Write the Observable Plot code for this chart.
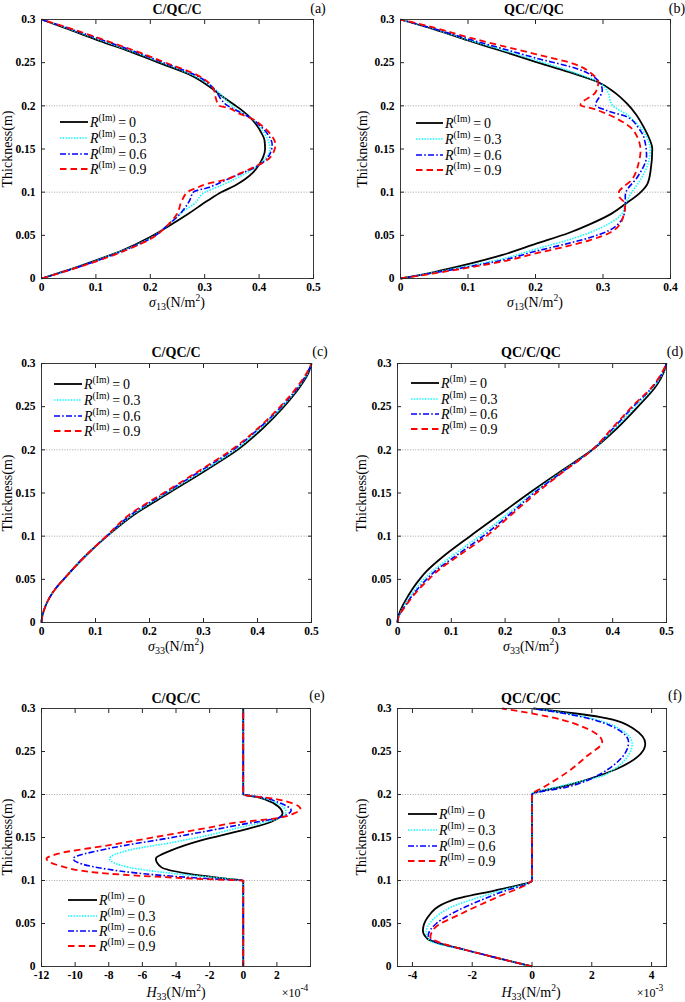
<!DOCTYPE html>
<html><head><meta charset="utf-8">
<script src="https://cdn.jsdelivr.net/npm/d3@7"></script>
<script src="https://cdn.jsdelivr.net/npm/@observablehq/plot@0.6"></script>
<style>
body{margin:0;background:#fff;}
#fig{position:relative;width:685px;height:1002px;overflow:hidden;font-family:"Liberation Serif","DejaVu Serif",serif;color:#000;background:#fff;}
#fig svg.plot{position:absolute;}
.t{position:absolute;white-space:nowrap;line-height:1;}
.ttl{font-weight:bold;font-size:14px;transform:translate(-50%,-50%);}
.let{font-size:14px;transform:translate(-50%,-50%);}
.xl{font-size:14px;transform:translate(-50%,-50%);}
.yl{font-size:14px;transform:translate(-50%,-50%) rotate(-90deg);}
.sub{font-size:10px;position:relative;top:3px;}
.sup{font-size:9.5px;position:relative;top:-6px;}
.lg{font-size:14px;transform:translateY(-50%);}
.mult{font-size:12px;transform:translate(-50%,-50%);}
</style></head>
<body><div id="fig"></div>
<script>
// ---------- tick labels / categories ----------
const yTicks = [0, 0.05, 0.1, 0.15, 0.2, 0.25, 0.3];
const layerBounds = [0.1, 0.2];
const sigTicks5 = [0, 0.1, 0.2, 0.3, 0.4, 0.5];
const sigTicks4 = [0, 0.1, 0.2, 0.3, 0.4];
const hTicksE = [-12, -10, -8, -6, -4, -2, 0, 2];
const hTicksF = [-4, -2, 0, 2, 4];
const rValues = ["0", "0.3", "0.6", "0.9"];

// ---------- (a) sigma13, C/QC/C ----------
const a_black_y = [0, 0.01, 0.021, 0.033, 0.0475, 0.06, 0.075, 0.09, 0.1005, 0.1075, 0.115, 0.123, 0.131, 0.14, 0.15, 0.16, 0.17, 0.178, 0.185, 0.193, 0.201, 0.212, 0.2207, 0.235, 0.25, 0.263, 0.275, 0.29, 0.3];
const a_black_x = [0, 0.05, 0.1, 0.15, 0.198, 0.232, 0.27, 0.305, 0.332, 0.355, 0.374, 0.389, 0.399, 0.407, 0.411, 0.41, 0.403, 0.395, 0.386, 0.372, 0.355, 0.33, 0.312, 0.276, 0.215, 0.162, 0.108, 0.044, 0];
const a_cyan_y = [0, 0.01, 0.021, 0.033, 0.0475, 0.06, 0.0785, 0.086, 0.1, 0.1075, 0.115, 0.13, 0.15, 0.17, 0.185, 0.195, 0.203, 0.212, 0.2207, 0.235, 0.25, 0.263, 0.275, 0.29, 0.3];
const a_cyan_x = [0, 0.051, 0.102, 0.152, 0.202, 0.229, 0.262, 0.28, 0.301, 0.329, 0.355, 0.396, 0.42, 0.408, 0.387, 0.36, 0.345, 0.331, 0.316, 0.28, 0.221, 0.167, 0.113, 0.047, 0];
const a_blue_y = [0, 0.01, 0.021, 0.033, 0.0475, 0.06, 0.075, 0.09, 0.1005, 0.105, 0.113, 0.122, 0.13, 0.14, 0.155, 0.168, 0.178, 0.185, 0.1925, 0.202, 0.206, 0.2207, 0.235, 0.25, 0.263, 0.275, 0.29, 0.3];
const a_blue_x = [0, 0.052, 0.104, 0.154, 0.204, 0.229, 0.255, 0.272, 0.28, 0.305, 0.335, 0.368, 0.396, 0.416, 0.424, 0.415, 0.4, 0.387, 0.365, 0.338, 0.332, 0.316, 0.285, 0.224, 0.171, 0.117, 0.049, 0];
const a_red_y = [0, 0.01, 0.021, 0.033, 0.0475, 0.06, 0.0747, 0.09, 0.101, 0.1044, 0.1095, 0.114, 0.122, 0.13, 0.14, 0.155, 0.168, 0.178, 0.185, 0.1906, 0.198, 0.2003, 0.21, 0.2197, 0.235, 0.25, 0.263, 0.275, 0.29, 0.3];
const a_red_x = [0, 0.053, 0.106, 0.156, 0.205, 0.229, 0.249, 0.258, 0.2705, 0.283, 0.304, 0.335, 0.366, 0.394, 0.42, 0.43, 0.42, 0.403, 0.387, 0.365, 0.341, 0.326, 0.32, 0.316, 0.288, 0.228, 0.175, 0.121, 0.051, 0];

// ---------- (b) sigma13, QC/C/QC ----------
const b_black_y = [0, 0.0075, 0.0166, 0.027, 0.04, 0.053, 0.063, 0.074, 0.0863, 0.0998, 0.11, 0.125, 0.15, 0.163, 0.175, 0.19, 0.2022, 0.215, 0.227, 0.239, 0.251, 0.2635, 0.2757, 0.2885, 0.3];
const b_black_x = [0, 0.05, 0.1, 0.15, 0.2, 0.25, 0.281, 0.31, 0.333, 0.3556, 0.366, 0.3705, 0.373, 0.368, 0.3605, 0.349, 0.336, 0.318, 0.294, 0.25, 0.2, 0.15, 0.1, 0.05, 0];
const b_cyan_y = [0, 0.007, 0.0145, 0.0225, 0.034, 0.045, 0.0534, 0.064, 0.075, 0.0863, 0.098, 0.115, 0.1365, 0.15, 0.165, 0.179, 0.19, 0.201, 0.2177, 0.227, 0.2405, 0.253, 0.265, 0.2765, 0.289, 0.3];
const b_cyan_x = [0, 0.05, 0.1, 0.15, 0.2, 0.25, 0.281, 0.31, 0.328, 0.333, 0.341, 0.356, 0.368, 0.37, 0.364, 0.3506, 0.335, 0.3136, 0.306, 0.294, 0.25, 0.2, 0.15, 0.1, 0.05, 0];
const b_blue_y = [0, 0.0065, 0.0135, 0.021, 0.0315, 0.041, 0.0475, 0.056, 0.066, 0.077, 0.0863, 0.096, 0.1, 0.117, 0.1423, 0.1635, 0.175, 0.187, 0.1945, 0.201, 0.2177, 0.228, 0.242, 0.2555, 0.2665, 0.2775, 0.2893, 0.3];
const b_blue_x = [0, 0.05, 0.1, 0.15, 0.2, 0.25, 0.281, 0.31, 0.326, 0.332, 0.333, 0.333, 0.334, 0.3506, 0.3645, 0.3605, 0.352, 0.336, 0.306, 0.289, 0.299, 0.294, 0.265, 0.2, 0.15, 0.1, 0.05, 0];
const b_red_y = [0, 0.006, 0.0125, 0.0195, 0.029, 0.038, 0.0445, 0.053, 0.059, 0.0747, 0.0863, 0.095, 0.1, 0.106, 0.113, 0.1345, 0.148, 0.171, 0.1849, 0.1964, 0.201, 0.2157, 0.227, 0.236, 0.2486, 0.26, 0.2695, 0.2795, 0.2905, 0.3];
const b_red_x = [0, 0.05, 0.1, 0.15, 0.2, 0.25, 0.281, 0.31, 0.321, 0.331, 0.333, 0.324, 0.3235, 0.33, 0.341, 0.353, 0.3556, 0.3457, 0.321, 0.2864, 0.2667, 0.289, 0.293, 0.285, 0.257, 0.2, 0.15, 0.1, 0.05, 0];

// ---------- (c) sigma33, C/QC/C ----------
const c_y = [0, 0.005, 0.01, 0.02, 0.03, 0.04, 0.05, 0.075, 0.1, 0.125, 0.15, 0.175, 0.2, 0.225, 0.25, 0.275, 0.29, 0.3];
const c_black_x = [0, 0.0008, 0.0025, 0.008, 0.016, 0.027, 0.041, 0.078, 0.1215, 0.172, 0.236, 0.301, 0.363, 0.41, 0.449, 0.481, 0.495, 0.5];
const c_cyan_x = [0, 0.0008, 0.0025, 0.008, 0.016, 0.027, 0.041, 0.078, 0.121, 0.169, 0.232, 0.297, 0.359, 0.406, 0.446, 0.479, 0.494, 0.5];
const c_blue_x = [0, 0.0008, 0.0025, 0.008, 0.016, 0.027, 0.041, 0.078, 0.1205, 0.166, 0.229, 0.293, 0.355, 0.403, 0.444, 0.478, 0.493, 0.5];
const c_red_x = [0, 0.0008, 0.0025, 0.008, 0.016, 0.027, 0.041, 0.078, 0.12, 0.163, 0.226, 0.29, 0.352, 0.401, 0.442, 0.476, 0.492, 0.5];

// ---------- (d) sigma33, QC/C/QC ----------
const d_y = [0, 0.005, 0.01, 0.02, 0.03, 0.04, 0.05, 0.06, 0.075, 0.1, 0.125, 0.15, 0.175, 0.2, 0.225, 0.25, 0.275, 0.29, 0.3];
const d_black_x = [0, 0.0008, 0.003, 0.01, 0.019, 0.029, 0.041, 0.055, 0.082, 0.135, 0.19, 0.245, 0.303, 0.362, 0.408, 0.447, 0.482, 0.495, 0.5];
const d_cyan_x = [0, 0.001, 0.004, 0.013, 0.023, 0.035, 0.049, 0.066, 0.097, 0.152, 0.203, 0.251, 0.306, 0.362, 0.404, 0.442, 0.479, 0.494, 0.5];
const d_blue_x = [0, 0.001, 0.0045, 0.015, 0.026, 0.039, 0.054, 0.071, 0.1035, 0.159, 0.208, 0.254, 0.308, 0.362, 0.401, 0.438, 0.477, 0.493, 0.5];
const d_red_x = [0, 0.0012, 0.005, 0.016, 0.028, 0.042, 0.058, 0.075, 0.108, 0.165, 0.212, 0.258, 0.309, 0.362, 0.399, 0.436, 0.476, 0.492, 0.5];

// ---------- (e) H33 (x 1e-4), C/QC/C ----------
const e_black_y = [0, 0.0999, 0.102, 0.108, 0.1156, 0.1254, 0.135, 0.1467, 0.158, 0.168, 0.1778, 0.1894, 0.197, 0.2001, 0.3];
const e_black_x = [0, 0, -0.93, -3.3, -4.88, -5.2, -4.29, -2.51, -0.14, 1.64, 2.34, 1.84, 0.85, 0, 0];
const e_cyan_y = [0, 0.0999, 0.102, 0.108, 0.1156, 0.1254, 0.135, 0.1447, 0.153, 0.162, 0.17, 0.1796, 0.19, 0.197, 0.2001, 0.3];
const e_cyan_x = [0, 0, -0.93, -4.09, -6.86, -7.95, -6.86, -4.09, -2.0, -0.14, 1.75, 2.55, 2.0, 0.9, 0, 0];
const e_blue_y = [0, 0.0999, 0.1015, 0.1048, 0.113, 0.1254, 0.137, 0.1505, 0.158, 0.165, 0.172, 0.1816, 0.19, 0.197, 0.2001, 0.3];
const e_blue_x = [0, 0, -1.5, -4.09, -8.04, -10.12, -8.04, -4.09, -2.0, -0.14, 1.9, 2.85, 2.2, 1.0, 0, 0];
const e_red_y = [0, 0.0999, 0.1012, 0.1033, 0.108, 0.1176, 0.1254, 0.1312, 0.1409, 0.1545, 0.161, 0.168, 0.172, 0.178, 0.1835, 0.189, 0.195, 0.2001, 0.3];
const e_red_x = [0, 0, -1.8, -4.09, -8.04, -11.0, -11.7, -11.0, -8.04, -4.09, -2.2, -0.14, 1.84, 3.03, 3.4, 3.03, 1.84, 0, 0];

// ---------- (f) H33 (x 1e-3), QC/C/QC ----------
const f_black_y = [0, 0.0089, 0.0186, 0.032, 0.0418, 0.0573, 0.0767, 0.09, 0.1, 0.101, 0.199, 0.2, 0.2106, 0.23, 0.259, 0.2764, 0.29, 0.3];
const f_black_x = [0, -1.04, -2.15, -3.49, -3.65, -3.49, -2.71, -1.04, 0, 0, 0, 0, 1.18, 2.85, 3.79, 3.4, 2.29, 0.05];
const f_cyan_y = [0, 0.0089, 0.0186, 0.03, 0.04, 0.055, 0.0689, 0.0883, 0.1, 0.101, 0.199, 0.2, 0.21, 0.224, 0.259, 0.277, 0.29, 0.3];
const f_cyan_x = [0, -1.04, -2.15, -3.42, -3.54, -3.3, -2.71, -1.04, 0, 0, 0, 0, 1.0, 2.51, 3.35, 2.9, 1.8, 0.1];
const f_blue_y = [0, 0.0089, 0.0186, 0.03, 0.036, 0.05, 0.065, 0.0863, 0.1, 0.101, 0.199, 0.2, 0.2087, 0.224, 0.261, 0.277, 0.29, 0.3];
const f_blue_x = [0, -1.04, -2.15, -3.3, -3.47, -3.2, -2.49, -1.04, 0, 0, 0, 0, 1.18, 2.29, 3.23, 2.8, 1.7, 0.05];
const f_red_y = [0, 0.0089, 0.0186, 0.028, 0.034, 0.045, 0.0612, 0.0825, 0.096, 0.1, 0.101, 0.199, 0.2, 0.2087, 0.226, 0.245, 0.261, 0.2764, 0.29, 0.3];
const f_red_x = [0, -1.04, -2.15, -3.1, -3.4, -3.25, -2.38, -1.04, -0.15, 0, 0, 0, 0, 0.4, 1.18, 1.85, 2.35, 1.85, 0.62, -1.0];

// ---------- styles ----------
const lineStyles = [
  {stroke: "#000000", width: 1.8, dash: null},
  {stroke: "#00FFFF", width: 1.6, dash: "1.4,1.4"},
  {stroke: "#0000FF", width: 1.6, dash: "6,2.2,1.6,2.2"},
  {stroke: "#FF0000", width: 1.8, dash: "6.5,4"}
];
const axisColor = "#262626";
const fmt = d => String(+(+d).toFixed(4));

const sig13 = '<i>σ</i><span class="sub">13</span>(N/m<span class="sup">2</span>)';
const sig33 = '<i>σ</i><span class="sub">33</span>(N/m<span class="sup">2</span>)';
const h33 = '<i>H</i><span class="sub">33</span>(N/m<span class="sup">2</span>)';

const panels = [
  {letter: "(a)", title: "C/QC/C", left: 0, top: 0, w: 340, h: 330, m: [19, 27, 52, 41], xDomain: [0, 0.5], xTicks: sigTicks5,
   xs: [a_black_x, a_cyan_x, a_blue_x, a_red_x], ys: [a_black_y, a_cyan_y, a_blue_y, a_red_y],
   tx: 177, ty: 10, lx: 318, ly: 9, xl: sig13, xlx: 177, xly: 303, ylx: 8, yly: 148.5,
   leg: {x0: 60, x1: 88, ys: [122, 138, 153.5, 169]}},
  {letter: "(b)", title: "QC/C/QC", left: 342, top: 0, w: 343, h: 330, m: [19, 15, 52, 58], xDomain: [0, 0.4], xTicks: sigTicks4,
   xs: [b_black_x, b_cyan_x, b_blue_x, b_red_x], ys: [b_black_y, b_cyan_y, b_blue_y, b_red_y],
   tx: 534, ty: 10, lx: 677, ly: 9, xl: sig13, xlx: 535, xly: 303, ylx: 363, yly: 148.5,
   leg: {x0: 416, x1: 443, ys: [123, 139, 154.5, 170]}},
  {letter: "(c)", title: "C/QC/C", left: 0, top: 335, w: 340, h: 340, m: [28, 29, 53, 41], xDomain: [0, 0.5], xTicks: sigTicks5,
   xs: [c_black_x, c_cyan_x, c_blue_x, c_red_x], ys: [c_y, c_y, c_y, c_y],
   tx: 176, ty: 353, lx: 320, ly: 352, xl: sig33, xlx: 176, xly: 647, ylx: 8, yly: 492.5,
   leg: {x0: 54, x1: 82, ys: [384, 400, 415.5, 431]}},
  {letter: "(d)", title: "QC/C/QC", left: 342, top: 335, w: 343, h: 340, m: [28, 19, 53, 55], xDomain: [0, 0.5], xTicks: sigTicks5,
   xs: [d_black_x, d_cyan_x, d_blue_x, d_red_x], ys: [d_y, d_y, d_y, d_y],
   tx: 531, ty: 353, lx: 675, ly: 352, xl: sig33, xlx: 531, xly: 647, ylx: 362, yly: 492.5,
   leg: {x0: 411, x1: 439, ys: [383, 399, 414, 429]}},
  {letter: "(e)", title: "C/QC/C", left: 0, top: 680, w: 340, h: 322, m: [28, 30, 36, 41], xDomain: [-12, 4], xTicks: hTicksE,
   xs: [e_black_x, e_cyan_x, e_blue_x, e_red_x], ys: [e_black_y, e_cyan_y, e_blue_y, e_red_y],
   tx: 176, ty: 699, lx: 317, ly: 696, xl: h33, xlx: 176, xly: 993, ylx: 8, yly: 837,
   leg: {x0: 68, x1: 97, ys: [900, 915.5, 931, 946]}, mult: "×10<span class=\"sup\">-4</span>", mx: 295, my: 993},
  {letter: "(f)", title: "QC/C/QC", left: 342, top: 680, w: 343, h: 322, m: [28, 19, 36, 55], xDomain: [-4.5, 4.5], xTicks: hTicksF,
   xs: [f_black_x, f_cyan_x, f_blue_x, f_red_x], ys: [f_black_y, f_cyan_y, f_blue_y, f_red_y],
   tx: 531, ty: 699, lx: 675, ly: 696, xl: h33, xlx: 531, xly: 993, ylx: 362, yly: 837,
   leg: {x0: 408, x1: 437, ys: [814, 830, 845.5, 861]}, mult: "×10<span class=\"sup\">-3</span>", mx: 650, my: 993}
];

const fig = document.getElementById("fig");
function txt(html, x, y, cls) {
  const d = document.createElement("div");
  d.className = "t " + cls;
  d.innerHTML = html;
  d.style.left = x + "px";
  d.style.top = y + "px";
  fig.appendChild(d);
  return d;
}

for (const p of panels) {
  const lineMarks = p.xs.map((xs, i) => {
    const rows = xs.map((x, j) => ({x, y: p.ys[i][j]}));
    const st = lineStyles[i];
    return Plot.line(rows, {x: "x", y: "y", curve: "monotone-y", stroke: st.stroke, strokeWidth: st.width,
      strokeDasharray: st.dash, strokeLinecap: "butt", strokeLinejoin: "round"});
  });
  const svg = Plot.plot({
    width: p.w, height: p.h,
    marginTop: p.m[0], marginRight: p.m[1], marginBottom: p.m[2], marginLeft: p.m[3],
    style: {fontFamily: "'Liberation Serif','DejaVu Serif',serif", fontSize: "11.5px", fontWeight: "bold", color: axisColor, background: "transparent", overflow: "visible"},
    x: {domain: p.xDomain, label: null},
    y: {domain: [0, 0.3], label: null},
    marks: [
      Plot.ruleY(layerBounds, {stroke: "#9a9a9a", strokeWidth: 0.9, strokeDasharray: "1,1.6"}),
      ...lineMarks,
      Plot.axisX({anchor: "bottom", ticks: p.xTicks, tickSize: -4, tickPadding: 8, tickFormat: fmt, label: null, fill: "#000"}),
      Plot.axisX({anchor: "top", ticks: p.xTicks, tickSize: -4, tickFormat: () => "", label: null}),
      Plot.axisY({anchor: "left", ticks: yTicks, tickSize: -4, tickPadding: 10, tickFormat: fmt, label: null, fill: "#000"}),
      Plot.axisY({anchor: "right", ticks: yTicks, tickSize: -4, tickFormat: () => "", label: null}),
      Plot.frame({stroke: axisColor, strokeWidth: 0.9})
    ]
  });
  svg.classList.add("plot");
  svg.style.left = p.left + "px";
  svg.style.top = p.top + "px";
  fig.appendChild(svg);

  txt(p.title, p.tx, p.ty, "ttl");
  txt(p.letter, p.lx, p.ly, "let");
  txt(p.xl, p.xlx, p.xly, "xl");
  txt("Thickness(m)", p.ylx, p.yly, "yl");
  if (p.mult) txt(p.mult, p.mx, p.my, "mult");

  // legend
  const L = p.leg;
  L.ys.forEach((yy, i) => {
    const st = lineStyles[i];
    const ns = "http://www.w3.org/2000/svg";
    const s = document.createElementNS(ns, "svg");
    s.setAttribute("width", L.x1 - L.x0);
    s.setAttribute("height", 6);
    s.style.position = "absolute";
    s.style.left = L.x0 + "px";
    s.style.top = (yy - 3) + "px";
    const ln = document.createElementNS(ns, "line");
    ln.setAttribute("x1", 0); ln.setAttribute("x2", L.x1 - L.x0);
    ln.setAttribute("y1", 3); ln.setAttribute("y2", 3);
    ln.setAttribute("stroke", st.stroke);
    ln.setAttribute("stroke-width", st.width);
    if (st.dash) ln.setAttribute("stroke-dasharray", st.dash);
    s.appendChild(ln);
    fig.appendChild(s);
    txt('<i>R</i><span class="sup">(Im)</span>&#8201;=&#8201;' + rValues[i], L.x1 + 2, yy + 1, "lg");
  });
}
</script>
</body></html>
